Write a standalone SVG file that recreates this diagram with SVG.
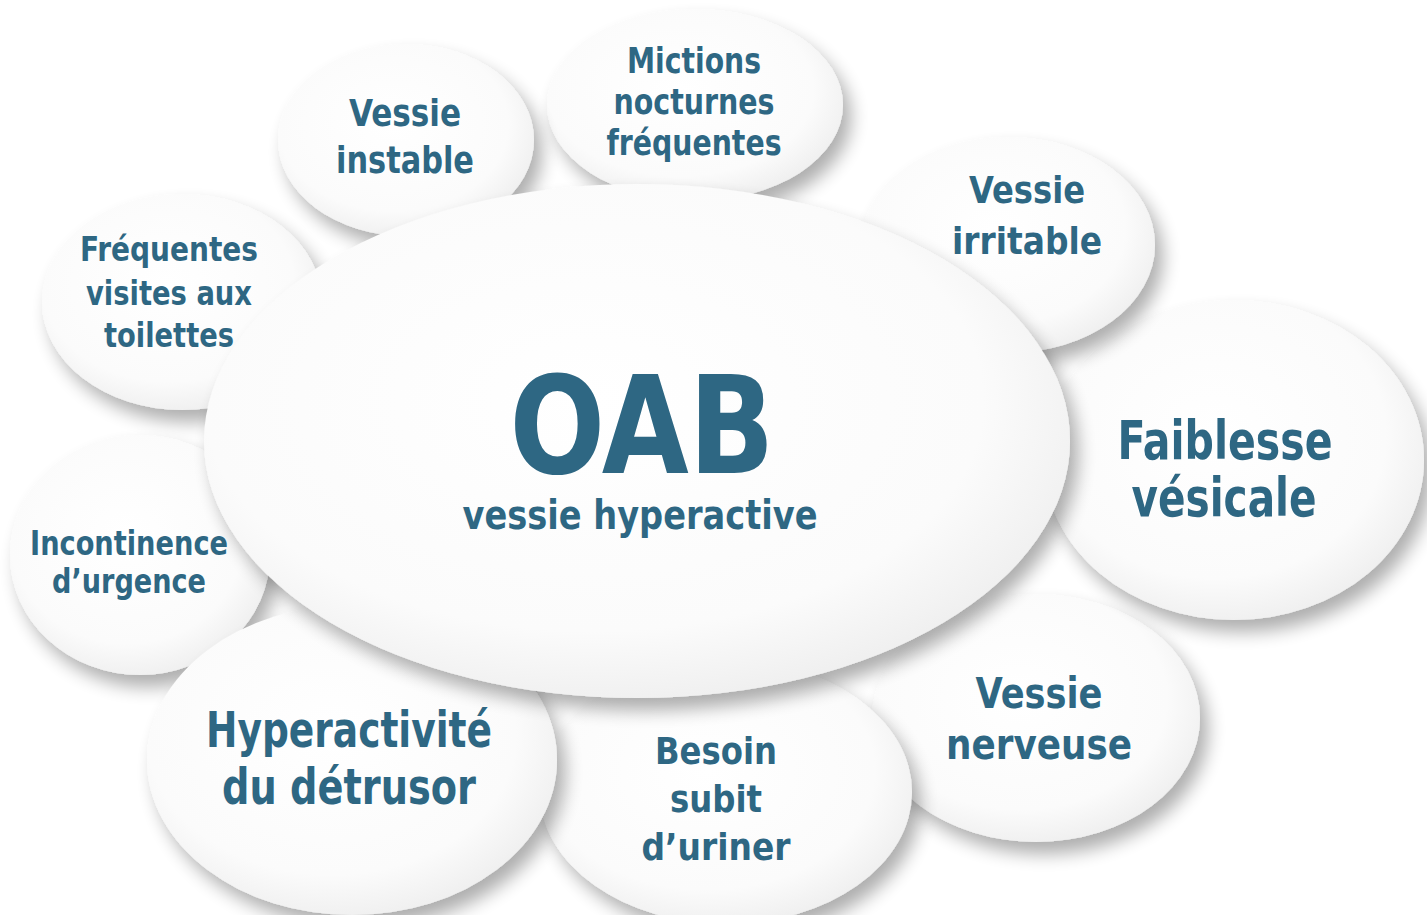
<svg xmlns="http://www.w3.org/2000/svg" width="1427" height="915" viewBox="0 0 1427 915">
<defs>
<radialGradient id="g" cx="0.45" cy="0.42" r="0.6">
<stop offset="0" stop-color="#ffffff"/>
<stop offset="0.75" stop-color="#fbfbfb"/>
<stop offset="1" stop-color="#efefef"/>
</radialGradient>
<filter id="sh" x="-20%" y="-20%" width="140%" height="150%">
<feGaussianBlur in="SourceAlpha" stdDeviation="9"/>
<feOffset dx="8" dy="12" result="b"/>
<feComponentTransfer><feFuncA type="linear" slope="0.32"/></feComponentTransfer>
<feMerge><feMergeNode/><feMergeNode in="SourceGraphic"/></feMerge>
</filter>
</defs>
<style>
.e{fill:url(#g);filter:url(#sh)}
text{font-family:"DejaVu Sans","Liberation Sans",sans-serif;font-weight:bold;font-stretch:condensed;fill:#2e6783;text-anchor:middle}
</style>
<rect width="1427" height="915" fill="#ffffff"/>
<g id="connectors"/>
<g id="n-nerveuse"><ellipse class="e" cx="1036" cy="718" rx="164" ry="124"/>
<text font-size="42" x="1039" y="708" textLength="127" lengthAdjust="spacingAndGlyphs">Vessie</text>
<text font-size="42" x="1039" y="759" textLength="186" lengthAdjust="spacingAndGlyphs">nerveuse</text></g>
<g id="n-faiblesse"><ellipse class="e" cx="1234" cy="460" rx="190" ry="160"/>
<text font-size="53" x="1225" y="459" textLength="215" lengthAdjust="spacingAndGlyphs">Faiblesse</text>
<text font-size="53" x="1224" y="516" textLength="185" lengthAdjust="spacingAndGlyphs">vésicale</text></g>
<g id="n-irritable"><ellipse class="e" cx="1008" cy="245" rx="147" ry="108"/>
<text font-size="38" x="1027" y="203" textLength="116" lengthAdjust="spacingAndGlyphs">Vessie</text>
<text font-size="38" x="1027" y="254" textLength="150" lengthAdjust="spacingAndGlyphs">irritable</text></g>
<g id="n-mictions"><ellipse class="e" cx="695" cy="105" rx="148" ry="96"/>
<text font-size="35" x="694" y="73" textLength="134" lengthAdjust="spacingAndGlyphs">Mictions</text>
<text font-size="35" x="694" y="114" textLength="161" lengthAdjust="spacingAndGlyphs">nocturnes</text>
<text font-size="35" x="694" y="155" textLength="175" lengthAdjust="spacingAndGlyphs">fréquentes</text></g>
<g id="n-instable"><ellipse class="e" cx="406" cy="140" rx="128" ry="96"/>
<text font-size="38" x="405" y="126" textLength="112" lengthAdjust="spacingAndGlyphs">Vessie</text>
<text font-size="38" x="405" y="173" textLength="138" lengthAdjust="spacingAndGlyphs">instable</text></g>
<g id="n-besoin"><ellipse class="e" cx="726" cy="792" rx="186" ry="132"/>
<text font-size="38" x="716" y="764" textLength="122" lengthAdjust="spacingAndGlyphs">Besoin</text>
<text font-size="38" x="716" y="812" textLength="92" lengthAdjust="spacingAndGlyphs">subit</text>
<text font-size="38" x="716" y="860" textLength="149" lengthAdjust="spacingAndGlyphs">d’uriner</text></g>
<g id="n-incontinence"><ellipse class="e" cx="140" cy="555" rx="130" ry="120"/>
<text font-size="33" x="129" y="555" textLength="198" lengthAdjust="spacingAndGlyphs">Incontinence</text>
<text font-size="33" x="129" y="593" textLength="154" lengthAdjust="spacingAndGlyphs">d’urgence</text></g>
<g id="n-hyperactivite"><ellipse class="e" cx="352" cy="760" rx="205" ry="155"/>
<text font-size="50" x="349" y="747" textLength="286" lengthAdjust="spacingAndGlyphs">Hyperactivité</text>
<text font-size="50" x="349" y="804" textLength="254" lengthAdjust="spacingAndGlyphs">du détrusor</text></g>
<g id="n-frequentes"><ellipse class="e" cx="182" cy="302" rx="140" ry="108"/>
<text font-size="33" x="169" y="261" textLength="178" lengthAdjust="spacingAndGlyphs">Fréquentes</text>
<text font-size="33" x="169" y="305" textLength="166" lengthAdjust="spacingAndGlyphs">visites aux</text>
<text font-size="33" x="169" y="347" textLength="130" lengthAdjust="spacingAndGlyphs">toilettes</text></g>
<g id="n-oab"><ellipse class="e" cx="637" cy="441" rx="433" ry="257"/>
<text font-size="136" x="642" y="473" textLength="265" lengthAdjust="spacingAndGlyphs">OAB</text>
<text font-size="40" x="640" y="529" textLength="355" lengthAdjust="spacingAndGlyphs">vessie hyperactive</text></g>
</svg>
